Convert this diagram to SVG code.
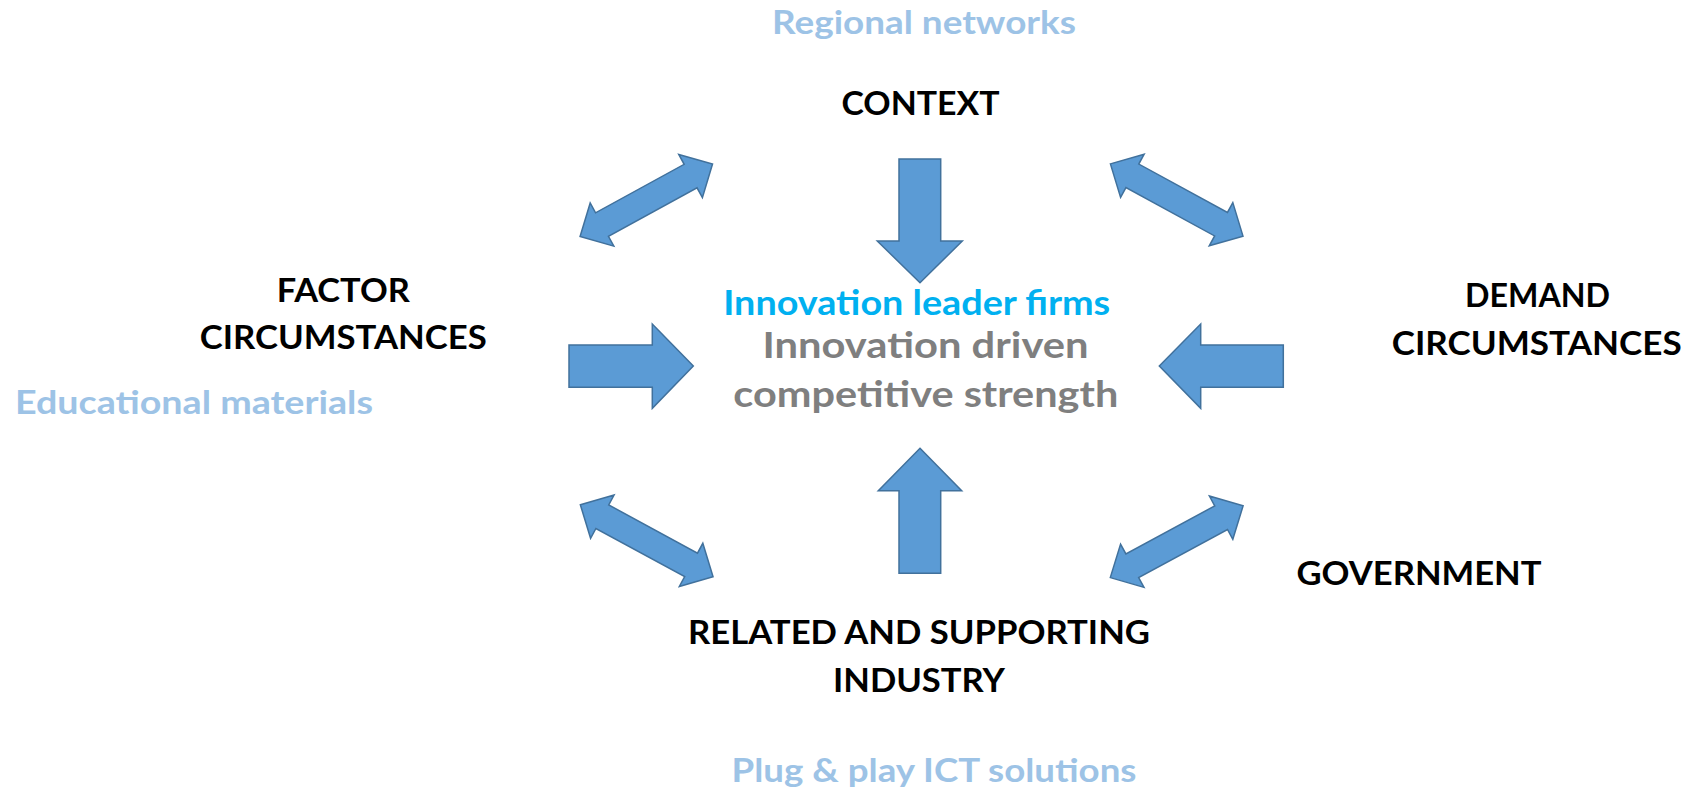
<svg xmlns="http://www.w3.org/2000/svg" width="1689" height="788" viewBox="0 0 1689 788">
<style>
.arrow{fill:#5B9BD5;stroke:#41719C;stroke-width:1.5;stroke-linejoin:miter}
.t{font-family:Lato,"Open Sans","Liberation Sans",sans-serif;font-weight:bold;text-anchor:middle}
.k{fill:#000;font-size:33px}
.lb{fill:#9DC3E6;font-size:33px}
.cy{fill:#00B0F0;font-size:34px}
.gr{fill:#7F7F7F;font-size:37px}
</style>
<defs>
<polygon id="dbl" points="-75.5,0 -50.5,-24.6 -50.5,-13.4 50.5,-13.4 50.5,-24.6 75.5,0 50.5,24.6 50.5,13.4 -50.5,13.4 -50.5,24.6"/>
</defs>
<g id="connectors">
<use href="#dbl" class="arrow" transform="translate(646.3,200.3) rotate(-28.7)"/>
<use href="#dbl" class="arrow" transform="translate(1176.7,200) rotate(28.6)"/>
<use href="#dbl" class="arrow" transform="translate(646.7,540.8) rotate(28.5)"/>
<use href="#dbl" class="arrow" transform="translate(1176.7,541.7) rotate(-28.4)"/>
<polygon class="arrow" points="899,159 940.7,159 940.7,241 962.3,241 920,282.7 877.3,241 899,241"/>
<polygon class="arrow" points="920,448.3 961.7,490.7 940.7,490.7 940.7,573.3 899,573.3 899,490.7 878.3,490.7"/>
<polygon class="arrow" points="569,345 652.3,345 652.3,324 693.3,366 652.3,408.3 652.3,387.3 569,387.3"/>
<polygon class="arrow" points="1159.3,366 1200.7,324 1200.7,345 1283.3,345 1283.3,387.3 1200.7,387.3 1200.7,408.3"/>
</g>
<g id="regional-networks"><text class="t lb" x="924" y="34" textLength="304" lengthAdjust="spacingAndGlyphs">Regional networks</text></g>
<g id="context"><text class="t k" x="920.5" y="115" textLength="158" lengthAdjust="spacingAndGlyphs">CONTEXT</text></g>
<g id="factor"><text class="t k" x="343.3" y="302" textLength="133" lengthAdjust="spacingAndGlyphs">FACTOR</text><text class="t k" x="343.3" y="349" textLength="287" lengthAdjust="spacingAndGlyphs">CIRCUMSTANCES</text></g>
<g id="educational-materials"><text class="t lb" x="194" y="414" textLength="358" lengthAdjust="spacingAndGlyphs">Educational materials</text></g>
<g id="demand"><text class="t k" x="1537.5" y="306.7" textLength="145" lengthAdjust="spacingAndGlyphs">DEMAND</text><text class="t k" x="1536.7" y="355" textLength="290" lengthAdjust="spacingAndGlyphs">CIRCUMSTANCES</text></g>
<g id="government"><text class="t k" x="1419" y="585" textLength="245" lengthAdjust="spacingAndGlyphs">GOVERNMENT</text></g>
<g id="related"><text class="t k" x="919" y="644" textLength="462" lengthAdjust="spacingAndGlyphs">RELATED AND SUPPORTING</text><text class="t k" x="919" y="692" textLength="172" lengthAdjust="spacingAndGlyphs">INDUSTRY</text></g>
<g id="plug-play"><text class="t lb" x="934" y="782" textLength="405" lengthAdjust="spacingAndGlyphs">Plug &amp; play ICT solutions</text></g>
<g id="center">
<text class="t cy" x="916.7" y="315" textLength="387" lengthAdjust="spacingAndGlyphs">Innovation leader firms</text>
<text class="t gr" x="925.5" y="358" textLength="326" lengthAdjust="spacingAndGlyphs">Innovation driven</text>
<text class="t gr" x="925.8" y="407" textLength="385" lengthAdjust="spacingAndGlyphs">competitive strength</text>
</g>
</svg>
